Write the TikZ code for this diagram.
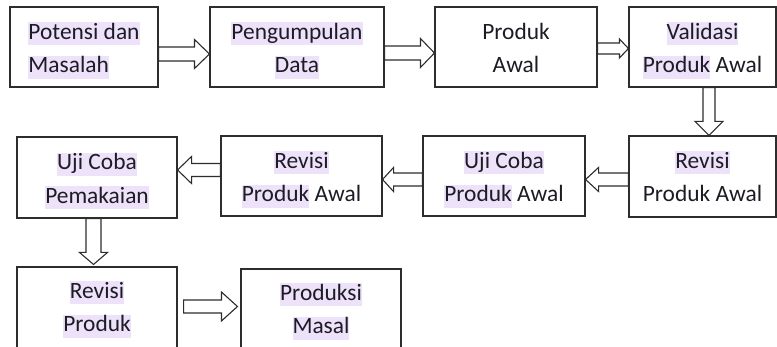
\documentclass[tikz,border=0pt]{standalone}
\usepackage{fontspec}
\setmainfont{Carlito}
\usetikzlibrary{calc}
\definecolor{hlc}{RGB}{238,226,250}
\definecolor{ink}{RGB}{28,28,36}
\definecolor{edge}{RGB}{45,45,45}
\newcommand{\st}{\rule[-6pt]{0pt}{23pt}}
\newcommand{\hl}[1]{{\setlength{\fboxsep}{0pt}\colorbox{hlc}{\st #1}}}
\newcommand{\harr}[5]{%
  \draw[arr] let \p1=#1, \p2=#2, \n1={ifthenelse(\x2>\x1,1,-1)} in
    ({\x1},{\y2+#3}) -- ({\x2-(\n1)*#5},{\y2+#3}) -- ({\x2-(\n1)*#5},{\y2+#4}) -- ({\x2},{\y2})
    -- ({\x2-(\n1)*#5},{\y2-#4}) -- ({\x2-(\n1)*#5},{\y2-#3}) -- ({\x1},{\y2-#3}) -- cycle;}
\newcommand{\varr}[5]{%
  \draw[arr] let \p1=#1, \p2=#2, \n1={ifthenelse(\y2>\y1,1,-1)} in
    ({\x2+#3},{\y1}) -- ({\x2+#3},{\y2-(\n1)*#5}) -- ({\x2+#4},{\y2-(\n1)*#5}) -- ({\x2},{\y2})
    -- ({\x2-#4},{\y2-(\n1)*#5}) -- ({\x2-#3},{\y2-(\n1)*#5}) -- ({\x2-#3},{\y1}) -- cycle;}
\tikzset{
  box/.style={draw=edge, line width=1.1pt, fill=white, inner sep=0pt},
  txt/.style={font=\fontsize{23.4}{33.5}\selectfont, text=ink, inner sep=0pt, align=center},
  arr/.style={draw=edge, line width=1.1pt, fill=white, line join=miter}
}
\begin{document}
\begin{tikzpicture}[x=1pt,y=-1pt]
\useasboundingbox (0,0) rectangle (777,347);
\clip (0,0) rectangle (777,347);
\fill[white] (0,0) rectangle (777,347);
% row 1
\node[box, minimum width=148pt, minimum height=80pt] (b1) at (84,47) {};
\node[box, minimum width=174pt, minimum height=80pt] (b2) at (297,47) {};
\node[box, minimum width=162pt, minimum height=80pt] (b3) at (516,47) {};
\node[box, minimum width=147pt, minimum height=80pt] (b4) at (702.5,47) {};
% row 2
\node[box, minimum width=147pt, minimum height=81pt] (c1) at (702.5,176.5) {};
\node[box, minimum width=162pt, minimum height=80pt] (c2) at (504,176) {};
\node[box, minimum width=161pt, minimum height=80pt] (c3) at (301.5,176) {};
\node[box, minimum width=160pt, minimum height=81pt] (c4) at (97,177.5) {};
% row 3
\node[box, minimum width=160pt, minimum height=82pt] (d1) at (97,308) {};
\node[box, minimum width=160pt, minimum height=82pt] (d2) at (321,310) {};
% texts
\node[txt, align=left] (t1) at ($(b1.center)+(0,3.5)$) {\hl{Potensi dan}\\\hl{Masalah}};
\node[txt] (t2) at ($(b2.center)+(0,3.5)$) {\hl{Pengumpulan}\\\hl{Data}};
\node[txt] (t3) at ($(b3.center)+(0,3.5)$) {\st Produk\\\st Awal};
\node[txt] (t4) at ($(b4.center)+(0,3.5)$) {\hl{Validasi}\\\hl{Produk} Awal};
\node[txt] (u1) at ($(c1.center)+(0,3)$) {\hl{Revisi}\\\st Produk Awal};
\node[txt] (u2) at ($(c2.center)+(0,3.5)$) {\hl{Uji Coba}\\\hl{Produk} Awal};
\node[txt] (u3) at ($(c3.center)+(0,3.5)$) {\hl{Revisi}\\\hl{Produk} Awal};
\node[txt] (u4) at ($(c4.center)+(0,3.5)$) {\hl{Uji Coba}\\\hl{Pemakaian}};
\node[txt] (v1) at ($(d1.center)+(0,1.5)$) {\hl{Revisi}\\\hl{Produk}};
\node[txt] (v2) at ($(d2.center)+(0,1.5)$) {\hl{Produksi}\\\hl{Masal}};
% arrows
\harr{($(b1.east)+(0,7)$)}{($(b2.west)+(0,7)$)}{7pt}{14.5pt}{15pt}
\harr{($(b2.east)+(0,6)$)}{($(b3.west)+(0,6)$)}{7pt}{14.5pt}{14pt}
\harr{($(b3.east)+(0,1.5)$)}{($(b4.west)+(0,1.5)$)}{5.5pt}{9.5pt}{9pt}
\varr{($(b4.south)+(6.5,0)$)}{($(c1.north)+(6.5,0)$)}{6pt}{14pt}{14pt}
\harr{($(c1.west)+(0,3)$)}{($(c2.east)+(0,3.5)$)}{6.5pt}{12pt}{13pt}
\harr{($(c2.west)+(0,3.5)$)}{($(c3.east)+(0,3.5)$)}{6.5pt}{12pt}{11pt}
\harr{($(c3.west)+(0,-6)$)}{($(c4.east)+(0,-7.5)$)}{6.5pt}{13.5pt}{14pt}
\varr{($(c4.south)+(-3.5,0)$)}{($(d1.north)+(-3.5,-2)$)}{7.5pt}{14pt}{12pt}
\harr{($(d1.east)+(6,-1.5)$)}{($(d2.west)+(-3,-3.5)$)}{6.5pt}{14.5pt}{16pt}
\end{tikzpicture}
\end{document}
